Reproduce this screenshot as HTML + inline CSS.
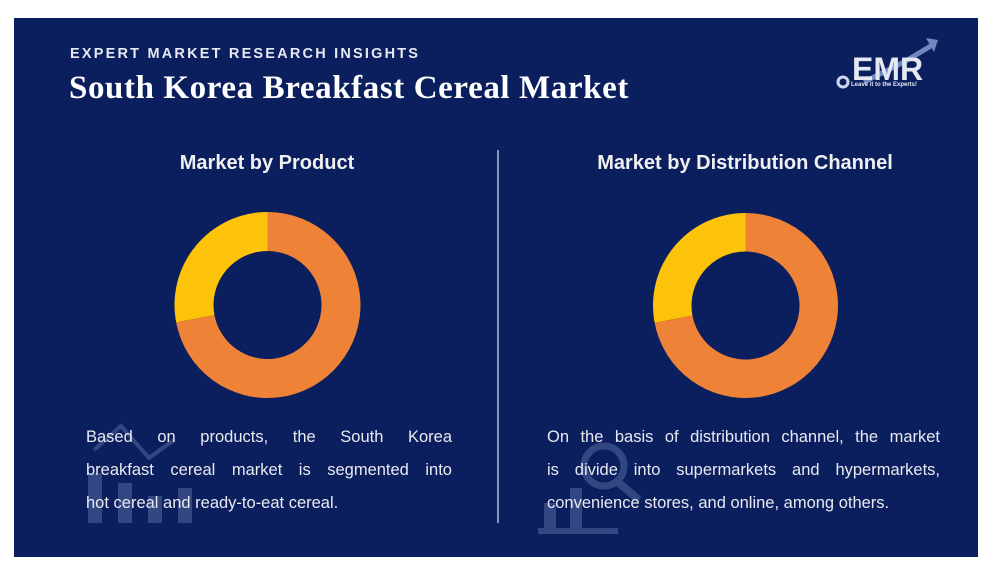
<!DOCTYPE html>
<html><head><meta charset="utf-8"><style>
body{margin:0;width:999px;height:574px;background:#fff;position:relative;overflow:hidden;font-family:"Liberation Sans",sans-serif}
#panel{position:absolute;left:14px;top:18px;width:964px;height:539px;background:#0b1f5e}
.abs{position:absolute}
.sup{left:56px;top:28px;color:#e6e9f2;font-weight:bold;font-size:14.5px;letter-spacing:2.2px}
.title{left:55px;top:52px;color:#fff;font-family:"Liberation Serif",serif;font-weight:bold;font-size:33px;letter-spacing:0.6px}
.h{color:#f0f0f0;font-weight:bold;font-size:20px;text-align:center}
.p{color:#e8eaf0;font-size:16.5px;line-height:33px}
.p span{display:block;text-align:justify;text-align-last:justify;white-space:nowrap}
.p span.l{text-align-last:left}
</style></head><body>
<div id="panel">
<div class="abs sup">EXPERT MARKET RESEARCH INSIGHTS</div>
<div class="abs title">South Korea Breakfast Cereal Market</div>
<svg class="abs" style="left:820px;top:12px" width="110" height="65">
<path d="M30 52 L70 32 L100 14" stroke="#6f88c0" stroke-width="5" fill="none"/>
<path d="M92 8 L104 10 L100 22 Z" fill="#6f88c0"/>
<text x="18" y="50" fill="#e4e8f2" font-family="Liberation Sans" font-weight="bold" font-size="32">EMR</text>
<circle cx="9" cy="52" r="5" stroke="#cdd8f0" stroke-width="3" fill="none"/>
<text x="17" y="56" fill="#e4e8f2" font-family="Liberation Sans" font-weight="bold" font-size="6">Leave it to the Experts!</text>
</svg>
<div class="abs h" style="left:93px;top:134px;width:320px">Market by Product</div>
<div class="abs h" style="left:571px;top:134px;width:320px">Market by Distribution Channel</div>
<div class="abs" style="left:483px;top:132px;width:2px;height:373px;background:#8b97b8"></div>
<svg class="abs" style="left:0;top:0" width="964" height="539" id="charts">
<g opacity="0.3" fill="#8da3d6" stroke="#8da3d6">
<rect x="74" y="455" width="14" height="50" stroke="none"/><rect x="104" y="465" width="14" height="40" stroke="none"/><rect x="134" y="478" width="14" height="27" stroke="none"/><rect x="164" y="470" width="14" height="35" stroke="none"/>
<polyline points="80,432 107,408 135,440 160,422" fill="none" stroke-width="4"/>
<rect x="524" y="510" width="80" height="6" stroke="none"/><rect x="530" y="485" width="12" height="25" stroke="none"/><rect x="556" y="470" width="12" height="40" stroke="none"/>
<circle cx="590" cy="448" r="20" fill="none" stroke-width="7"/><line x1="605" y1="465" x2="625" y2="482" stroke-width="8"/>
</g>
</svg>
<div class="abs p" style="left:72px;top:403px;width:366px"><span>Based on products, the South Korea</span><span>breakfast cereal market is segmented into</span><span class="l">hot cereal and ready-to-eat cereal.</span></div>
<div class="abs p" style="left:533px;top:403px;width:393px"><span>On the basis of distribution channel, the market</span><span>is divide into supermarkets and hypermarkets,</span><span class="l">convenience stores, and online, among others.</span></div>
</div>
<script>
const productCategories=["Ready-to-Eat Cereal","Hot Cereal"];
const productValues=[72,28];
const channelCategories=["Supermarkets and Hypermarkets","Others"];
const channelValues=[72,28];
const colors=["#ee8236","#fdc20a"];
const svg=document.getElementById('charts');
const NS="http://www.w3.org/2000/svg";
function donut(cx,cy,R,r,vals,cats,name){
  const tot=vals.reduce((a,b)=>a+b,0);let a0=0;
  vals.forEach((v,i)=>{
    const a1=a0+v/tot*2*Math.PI;
    const pt=(rad,a)=>[cx+rad*Math.sin(a),cy-rad*Math.cos(a)];
    const [x1,y1]=pt(R,a0),[x2,y2]=pt(R,a1),[x3,y3]=pt(r,a1),[x4,y4]=pt(r,a0);
    const lg=(a1-a0)>Math.PI?1:0;
    const p=document.createElementNS(NS,'path');
    p.setAttribute('d',`M${x1} ${y1}A${R} ${R} 0 ${lg} 1 ${x2} ${y2}L${x3} ${y3}A${r} ${r} 0 ${lg} 0 ${x4} ${y4}Z`);
    p.setAttribute('fill',colors[i]);
    
    
    svg.insertBefore(p,svg.firstChild);
    a0=a1;
  });
}
donut(253.5,287,93,54,productValues,productCategories,'product');
donut(731.5,287.5,92.5,54,channelValues,channelCategories,'channel');
</script>
</body></html>
